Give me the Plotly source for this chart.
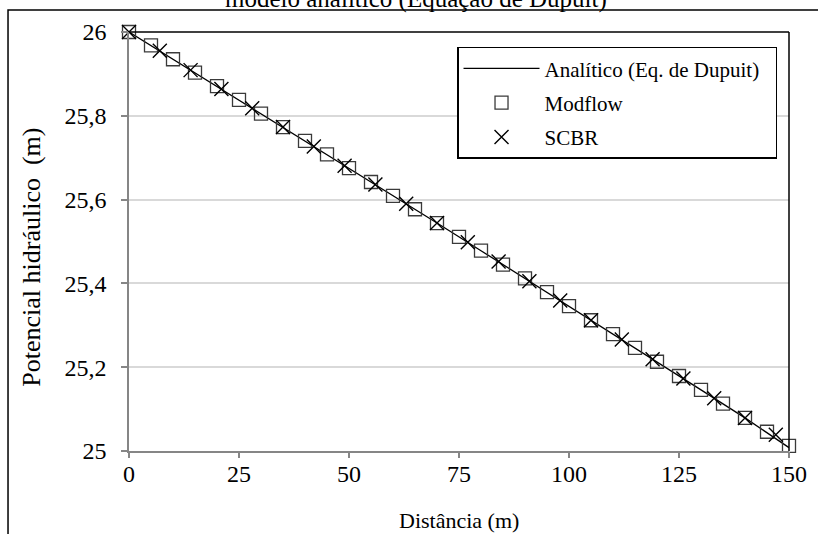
import plotly.graph_objects as go

# Distance along the aquifer (m) and hydraulic head (m)
dist_modflow = [0, 5, 10, 15, 20, 25, 30, 35, 40, 45, 50, 55, 60, 65, 70, 75,
                80, 85, 90, 95, 100, 105, 110, 115, 120, 125, 130, 135, 140, 145, 150]
head_modflow = [26.000, 25.968, 25.935, 25.903, 25.871, 25.838, 25.805, 25.773,
                25.740, 25.708, 25.675, 25.642, 25.609, 25.577, 25.544, 25.511,
                25.478, 25.445, 25.412, 25.379, 25.346, 25.312, 25.279, 25.246,
                25.213, 25.179, 25.146, 25.113, 25.079, 25.046, 25.012]

dist_scbr = [0, 7, 14, 21, 28, 35, 42, 49, 56, 63, 70, 77, 84, 91, 98, 105,
             112, 119, 126, 133, 140, 147]
head_scbr = [26.000, 25.955, 25.909, 25.864, 25.818, 25.773, 25.727, 25.681,
             25.636, 25.590, 25.544, 25.498, 25.452, 25.405, 25.359, 25.312,
             25.266, 25.219, 25.173, 25.126, 25.079, 25.039]

dist_analytic = [0, 10, 20, 30, 40, 50, 60, 70, 80, 90, 100, 110, 120, 130, 140, 150]
head_analytic = [26.000, 25.935, 25.871, 25.805, 25.740, 25.675, 25.609, 25.544,
                 25.478, 25.412, 25.346, 25.279, 25.213, 25.146, 25.079, 25.008]

x_ticks = [0, 25, 50, 75, 100, 125, 150]
y_ticks = [25, 25.2, 25.4, 25.6, 25.8, 26]
y_tick_text = ["25", "25,2", "25,4", "25,6", "25,8", "26"]

FONT = "Liberation Serif, Times New Roman, serif"
AXIS_GRAY = "#868686"
PAD = "\u00a0" * 2  # breathing room on the right side of the legend box

fig = go.Figure()

fig.add_trace(go.Scatter(
    x=dist_analytic, y=head_analytic, mode="lines",
    name="Analítico (Eq. de Dupuit)" + PAD, legendgroup="a",
    line=dict(color="black", width=1.3), cliponaxis=False,
))
fig.add_trace(go.Scatter(
    x=dist_modflow, y=head_modflow, mode="markers",
    name="Modflow", legendgroup="b",
    marker=dict(symbol="square-open", size=13, color="#3a3a3a",
                line=dict(width=1.3, color="#3a3a3a")),
    cliponaxis=False,
))
fig.add_trace(go.Scatter(
    x=dist_scbr, y=head_scbr, mode="markers",
    name="SCBR", legendgroup="c",
    marker=dict(symbol="x-thin-open", size=14, color="black",
                line=dict(width=1.4, color="black")),
    cliponaxis=False,
))

fig.update_layout(
    width=818, height=534,
    margin=dict(l=129, r=29, t=32, b=83, pad=0),
    paper_bgcolor="white", plot_bgcolor="white",
    font=dict(family=FONT, color="black", size=22),
    showlegend=True,
    legend=dict(
        x=0.497, y=0.965, xanchor="left", yanchor="top",
        bgcolor="white", bordercolor="black", borderwidth=1.5,
        font=dict(family=FONT, size=21, color="black"),
        tracegroupgap=4, itemwidth=76,
    ),
    # labelled axis: labels sit close to the axis line
    xaxis=dict(
        range=[0, 150], tickvals=x_ticks,
        showgrid=False, zeroline=False,
        showline=True, linecolor=AXIS_GRAY, linewidth=1.5,
        ticks="outside", ticklen=0, tickcolor=AXIS_GRAY,
        tickfont=dict(family=FONT, size=24, color="black"),
    ),
    # companion axis that only draws the short tick marks
    xaxis2=dict(
        range=[0, 150], tickvals=x_ticks, overlaying="x", side="bottom",
        anchor="y", showticklabels=False, showgrid=False, zeroline=False,
        showline=False, ticks="outside", ticklen=6, tickcolor=AXIS_GRAY,
        tickwidth=1.5,
    ),
    yaxis=dict(
        range=[25, 26], tickvals=y_ticks, ticktext=y_tick_text,
        showgrid=True, gridcolor="#d9d9d9", gridwidth=1.5,
        zeroline=False,
        showline=True, linecolor=AXIS_GRAY, linewidth=1.5,
        ticks="outside", ticklen=6, tickcolor=AXIS_GRAY, tickwidth=1.5,
        tickfont=dict(family=FONT, size=24, color="black"),
        ticklabelstandoff=10,
    ),
    shapes=[
        # black top and right edges of the plotting area
        dict(type="line", xref="paper", yref="paper", x0=0, x1=1, y0=1, y1=1,
             line=dict(color="black", width=1.5)),
        dict(type="line", xref="paper", yref="paper", x0=1, x1=1, y0=0, y1=1,
             line=dict(color="black", width=1.5)),
        # outer chart frame
        dict(type="rect", xref="paper", yref="paper",
             x0=-0.1833, x1=1.1, y0=-0.3, y1=1.0525,
             line=dict(color="black", width=1.5), layer="below"),
    ],
    annotations=[
        dict(text="modelo analítico (Equação de Dupuit)", xref="paper", yref="paper",
             x=0.435, y=1.0788, xanchor="center", yanchor="middle", showarrow=False,
             font=dict(family=FONT, size=25, color="black")),
        dict(text="Potencial hidráulico  (m)", xref="paper", yref="paper",
             x=-0.148, y=0.462, xanchor="center", yanchor="middle", showarrow=False,
             textangle=-90, font=dict(family=FONT, size=26, color="black")),
        dict(text="Distância (m)", xref="paper", yref="paper",
             x=0.5, y=-0.165, xanchor="center", yanchor="middle", showarrow=False,
             font=dict(family=FONT, size=22, color="black")),
    ],
)

# invisible trace so the tick-mark axis is rendered
fig.add_trace(go.Scatter(x=[x_ticks[0]], y=[y_ticks[0]], xaxis="x2", mode="markers",
                         marker=dict(opacity=0), showlegend=False, hoverinfo="skip"))

fig.write_html("out.html")
